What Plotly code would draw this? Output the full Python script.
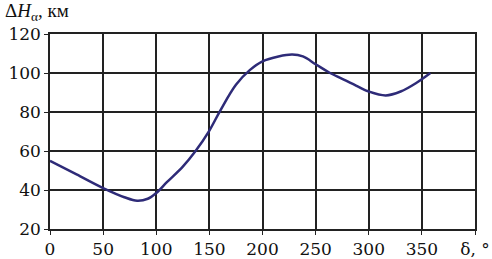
import plotly.graph_objects as go

delta = [0, 25, 50, 70, 82, 92, 100, 110, 125, 137, 150, 160, 175, 188, 200, 215, 228, 238, 250, 262, 275, 290, 300, 316, 330, 345, 358]
dH = [55, 48, 41, 36.3, 34.5, 35.5, 38.5, 44, 52, 60, 70.5, 80.5, 94, 101.5, 106, 108.5, 109.5, 108.5, 104.5, 100.5, 97, 93, 90.5, 88.5, 90.5, 95, 100]

x_tickvals = [0, 50, 100, 150, 200, 250, 300, 350, 400]
x_ticktext = ["0", "50", "100", "150", "200", "250", "300", "350", "δ, °"]
y_tickvals = [20, 40, 60, 80, 100, 120]

font = "DejaVu Serif"

fig = go.Figure()
fig.add_trace(go.Scatter(x=delta, y=dH, mode="lines",
                         line=dict(color="#2e2b78", width=2.5, shape="spline", smoothing=1.0),
                         showlegend=False, hoverinfo="skip"))

fig.update_xaxes(range=[0, 400], tickvals=x_tickvals, ticktext=x_ticktext, automargin=False,
                 showgrid=True, gridcolor="#222", gridwidth=1.5,
                 showline=True, linecolor="#222", linewidth=1.5, mirror=True,
                 ticks="outside", ticklen=4, tickcolor="#222", zeroline=False,
                 tickfont=dict(family=font, size=17, color="#111"))
fig.update_yaxes(range=[20, 120], tickvals=y_tickvals, automargin=False,
                 showgrid=True, gridcolor="#222", gridwidth=1.5,
                 showline=True, linecolor="#222", linewidth=1.5, mirror=True,
                 ticks="outside", ticklen=4, tickcolor="#222", zeroline=False,
                 tickfont=dict(family=font, size=17, color="#111"))

fig.add_annotation(text="Δ<i>H</i><sub>α</sub>, км", xref="paper", yref="paper",
                   x=-0.11, y=1.0, yshift=22, xanchor="left", yanchor="middle",
                   showarrow=False, font=dict(family="Liberation Serif", size=19, color="#111"))

fig.update_layout(width=492, height=259, margin=dict(l=50, r=17, t=34, b=30),
                  plot_bgcolor="white", paper_bgcolor="white")

fig.write_html("out.html", config={"displayModeBar": False},
               post_script="document.body.style.margin='0px';")
